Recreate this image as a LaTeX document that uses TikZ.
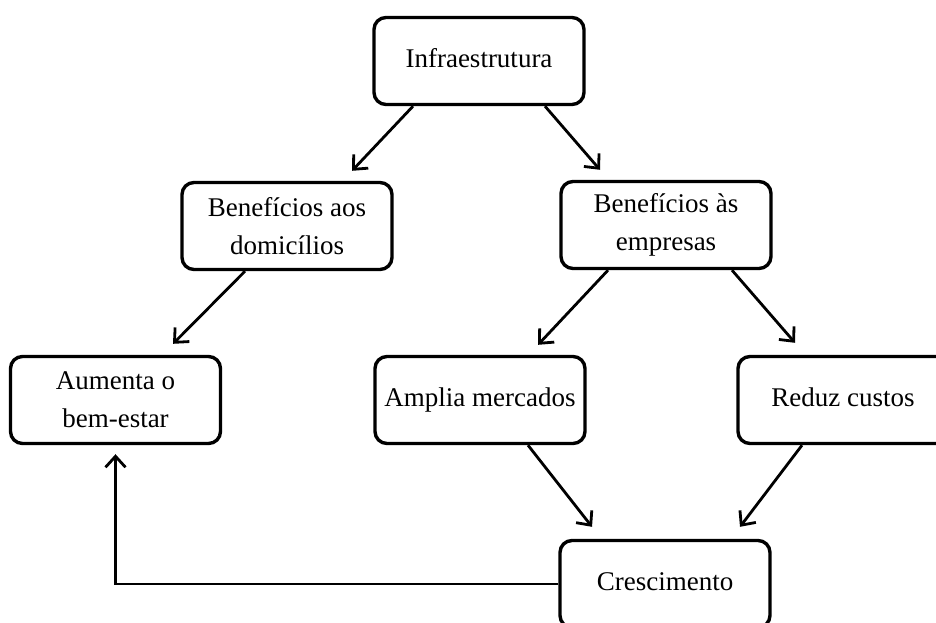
\documentclass[tikz,border=0pt]{standalone}
\usepackage{fontspec}
\setmainfont{Liberation Serif}
\usetikzlibrary{arrows.meta}
\tikzset{
box/.style={ % the rounded boxes
draw,
line width=1.7pt,
rounded corners=6pt,
fill=white,
align=center,
minimum width=105pt,
minimum height=43.5pt,
font=\fontsize{13.5}{19}\selectfont},
single/.style={text height=9pt, text depth=3pt}, % one line of text
every edge/.style={ % the arrows
draw,
-{Straight Barb[length=5.5pt,width=10pt]},
line width=1.4pt}}

\begin{document}
\begin{tikzpicture}[x=0.5pt,y=-0.5pt]
\useasboundingbox (0,0) rectangle (936,622);
\clip (0,0) rectangle (936,622);
\node[box,single] (infra) at (479,61) {Infraestrutura};
\node[box] (benA) at (287,226) {Benefícios aos\\domicílios};
\node[box] (benB) at (666,225) {Benefícios às\\empresas};
\node[box] (aum) at (115.5,400) {Aumenta o\\bem-estar};
\node[box,single] (amp) at (480,400) {Amplia mercados};
\node[box,single] (red) at (843,400) {Reduz custos};
\node[box,single] (cres) at (665,584) {Crescimento};
\draw ([xshift=-33pt]infra.south) edge ([xshift=32.5pt,yshift=5pt]benA.north);
\draw ([xshift=33pt]infra.south) edge ([xshift=-33pt,yshift=5pt]benB.north);
\draw ([xshift=-21pt]benA.south) edge ([xshift=28.75pt,yshift=5.5pt]aum.north);
\draw ([xshift=-29pt]benB.south) edge ([xshift=29pt,yshift=5pt]amp.north);
\draw ([xshift=33pt]benB.south) edge ([xshift=-24pt,yshift=6pt]red.north);
\draw ([xshift=24pt]amp.south) edge ([xshift=-36.5pt,yshift=6pt]cres.north);
\draw ([xshift=-20.5pt]red.south) edge ([xshift=37.5pt,yshift=6pt]cres.north);
\draw[line width=1.4pt,-{Straight Barb[length=5.5pt,width=10pt]}] (cres.west) -| ([yshift=-4.5pt]aum.south);
\end{tikzpicture}
\end{document}
